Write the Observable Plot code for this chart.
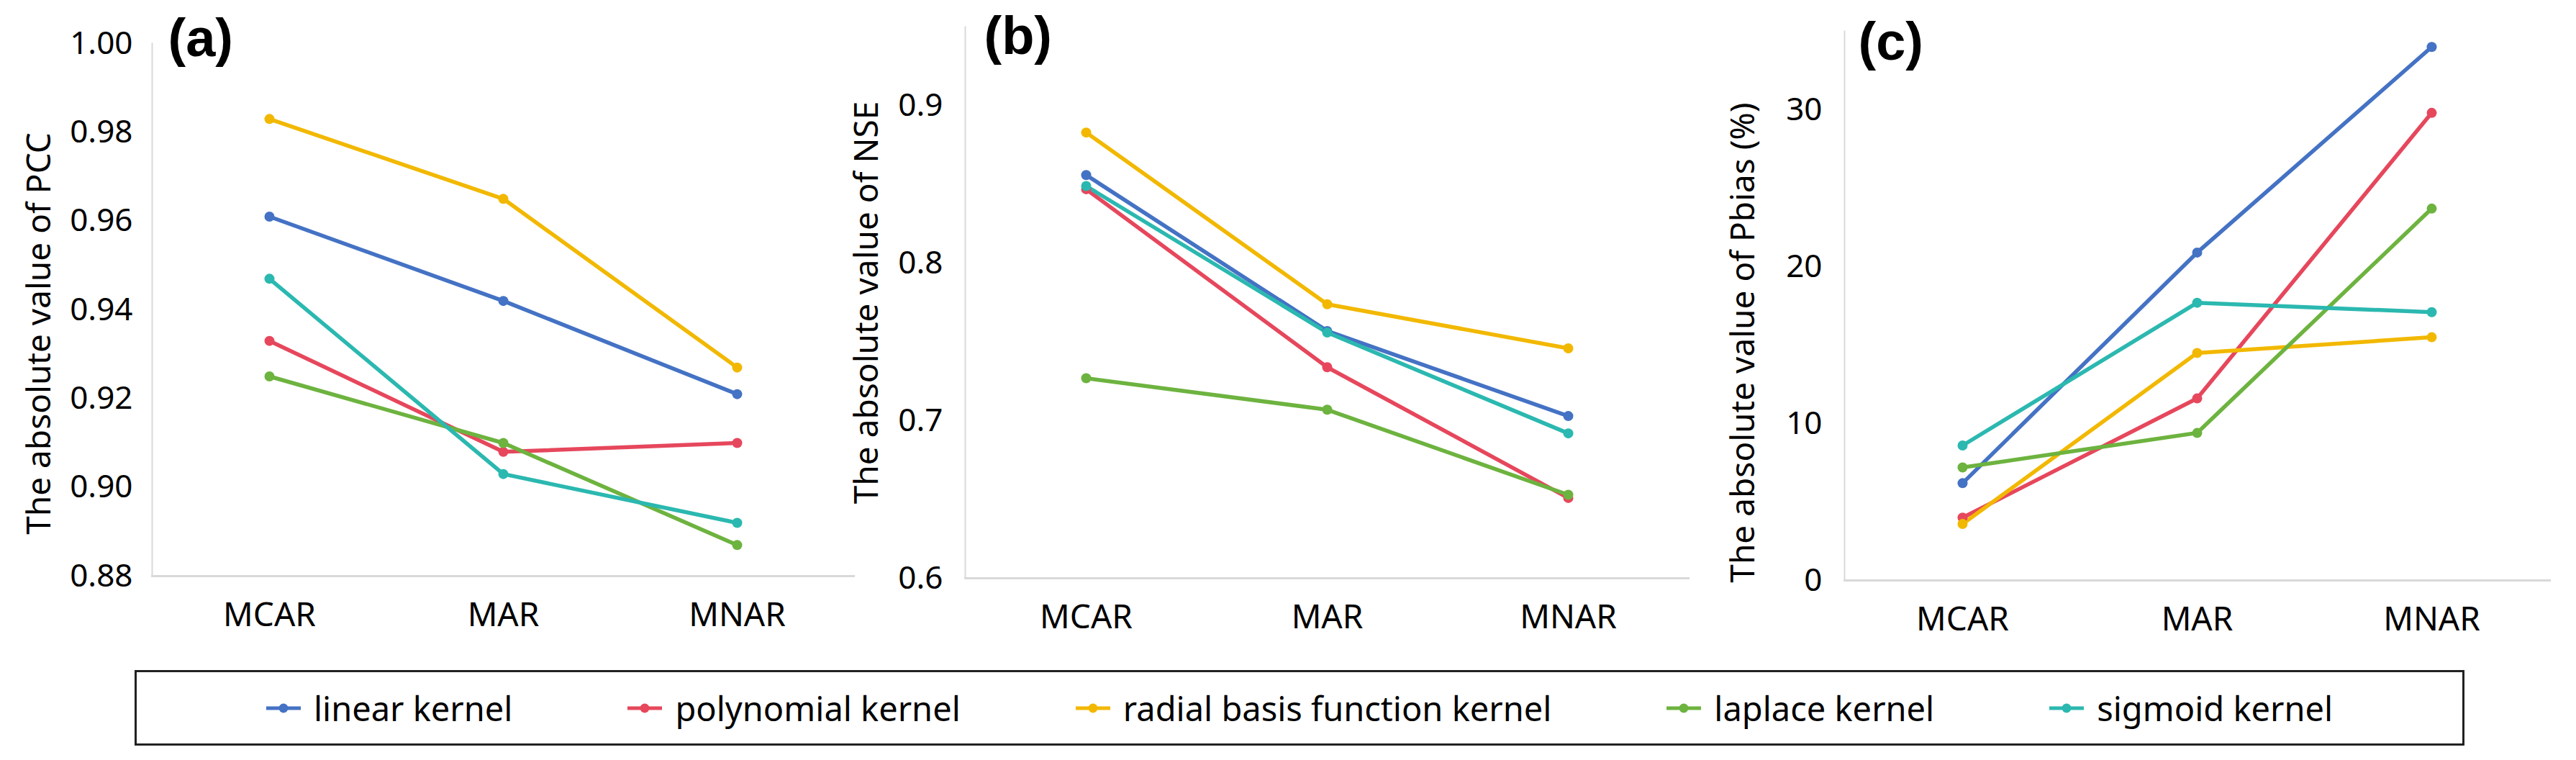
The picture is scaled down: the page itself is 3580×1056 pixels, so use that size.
<!DOCTYPE html>
<html>
<head>
<meta charset="utf-8">
<script src="https://cdn.jsdelivr.net/npm/d3@7"></script>
<script src="https://cdn.jsdelivr.net/npm/@observablehq/plot@0.6"></script>
<style>
html, body { margin: 0; padding: 0; background: #fff; }
body { width: 3580px; height: 1056px; position: relative; overflow: hidden; font-family: "Noto Sans", sans-serif; }
.panel { position: absolute; top: 0; }
#legend { position: absolute; left: 187px; top: 931px; width: 3238px; height: 105px; box-sizing: border-box;
  border: 3px solid #222; display: flex; align-items: center; justify-content: center; gap: 160px; }
.item { display: flex; align-items: center; gap: 18px; font-size: 47px; color: #000; white-space: nowrap; }
</style>
</head>
<body>
<div id="pa" class="panel" style="left:0px"></div>
<div id="pb" class="panel" style="left:1160px"></div>
<div id="pc" class="panel" style="left:2360px"></div>
<div id="legend"></div>
<script>
// ---- data ----
const mechanisms = ["MCAR", "MAR", "MNAR"];
const kernels = ["linear kernel", "polynomial kernel", "radial basis function kernel", "laplace kernel", "sigmoid kernel"];
const kernelColors = ["#4472C4", "#E6475C", "#F2B800", "#6DB33F", "#2BB8B0"];

// (a) absolute value of PCC
const pccLinear     = [0.961, 0.942, 0.921];
const pccPolynomial = [0.933, 0.908, 0.910];
const pccRbf        = [0.983, 0.965, 0.927];
const pccLaplace    = [0.925, 0.910, 0.887];
const pccSigmoid    = [0.947, 0.903, 0.892];
const pccTicks = [0.88, 0.90, 0.92, 0.94, 0.96, 0.98, 1.00];

// (b) absolute value of NSE
const nseLinear     = [0.856, 0.757, 0.703];
const nsePolynomial = [0.847, 0.734, 0.651];
const nseRbf        = [0.883, 0.774, 0.746];
const nseLaplace    = [0.727, 0.707, 0.653];
const nseSigmoid    = [0.849, 0.756, 0.692];
const nseTicks = [0.6, 0.7, 0.8, 0.9];

// (c) absolute value of Pbias (%)
const pbiasLinear     = [6.2, 20.9, 34.0];
const pbiasPolynomial = [4.0, 11.6, 29.8];
const pbiasRbf        = [3.6, 14.5, 15.5];
const pbiasLaplace    = [7.2, 9.4, 23.7];
const pbiasSigmoid    = [8.6, 17.7, 17.1];
const pbiasTicks = [0, 10, 20, 30];

function toRows(seriesList) {
  return kernels.flatMap((k, i) => seriesList[i].map((v, j) => ({kernel: k, mech: mechanisms[j], value: v})));
}

function panel(el, cfg) {
  const rows = toRows(cfg.series);
  const chart = Plot.plot({
    width: cfg.width, height: 900,
    marginLeft: cfg.ml, marginRight: cfg.mr, marginTop: cfg.mt, marginBottom: 900 - cfg.yBottom,
    style: {fontFamily: "Noto Sans", fontSize: "44px", color: "#000", background: "transparent", overflow: "visible"},
    x: {type: "point", domain: mechanisms, padding: 0.5},
    y: {domain: cfg.domain},
    color: {domain: kernels, range: kernelColors},
    marks: [
      Plot.frame({anchor: "left", stroke: "#d9d9d9", strokeWidth: 2}),
      Plot.frame({anchor: "bottom", stroke: "#d9d9d9", strokeWidth: 3}),
      Plot.axisY({ticks: cfg.ticks, tickFormat: cfg.fmt, tickSize: 0, tickPadding: cfg.tp, label: null, fontSize: 44, fill: "#000"}),
      Plot.axisX({tickSize: 0, tickPadding: 37, label: null, fontSize: 46, fill: "#000"}),
      Plot.lineY(rows, {x: "mech", y: "value", z: "kernel", stroke: "kernel", strokeWidth: 5.5}),
      Plot.dot(rows, {x: "mech", y: "value", fill: "kernel", r: 7}),
      Plot.text([cfg.tag], {frameAnchor: "top-left", dx: cfg.tagDx, dy: cfg.tagDy, lineAnchor: "top", textAnchor: "start",
        fontFamily: "Liberation Sans", fontWeight: "bold", fontSize: 74, fill: "#000"}),
      Plot.text([cfg.title], {frameAnchor: "left", rotate: -90, dx: cfg.titleDx, dy: cfg.titleDy,
        textAnchor: "middle", lineAnchor: "middle", fontSize: 46, fill: "#000"})
    ]
  });
  document.getElementById(el).appendChild(chart);
}

panel("pa", {
  series: [pccLinear, pccPolynomial, pccRbf, pccLaplace, pccSigmoid],
  width: 1160, ml: 211, mr: -26, mt: 60, yBottom: 800,
  domain: [0.88, 1.00], ticks: pccTicks, fmt: ".2f", tp: 27,
  tag: "(a)", tagDx: 22, tagDy: -35,
  title: "The absolute value of PCC", titleDx: -156, titleDy: 33
});
panel("pb", {
  series: [nseLinear, nsePolynomial, nseRbf, nseLaplace, nseSigmoid],
  width: 1200, ml: 181, mr: 14, mt: 37, yBottom: 803,
  domain: [0.6, 0.95], ticks: nseTicks, fmt: ".1f", tp: 31,
  tag: "(b)", tagDx: 26, tagDy: -15,
  title: "The absolute value of NSE", titleDx: -136, titleDy: 0
});
panel("pc", {
  series: [pbiasLinear, pbiasPolynomial, pbiasRbf, pbiasLaplace, pbiasSigmoid],
  width: 1220, ml: 203, mr: 37, mt: 43, yBottom: 806,
  domain: [0, 35], ticks: pbiasTicks, fmt: "d", tp: 31,
  tag: "(c)", tagDx: 19, tagDy: -13,
  title: "The absolute value of Pbias (%)", titleDx: -140, titleDy: 51
});

// ---- legend ----
const legend = document.getElementById("legend");
kernels.forEach((k, i) => {
  const item = document.createElement("div");
  item.className = "item";
  const ns = "http://www.w3.org/2000/svg";
  const svg = document.createElementNS(ns, "svg");
  svg.setAttribute("width", 48); svg.setAttribute("height", 16);
  const line = document.createElementNS(ns, "line");
  line.setAttribute("x1", 0); line.setAttribute("x2", 48); line.setAttribute("y1", 8); line.setAttribute("y2", 8);
  line.setAttribute("stroke", kernelColors[i]); line.setAttribute("stroke-width", 5);
  const dot = document.createElementNS(ns, "circle");
  dot.setAttribute("cx", 24); dot.setAttribute("cy", 8); dot.setAttribute("r", 6.5); dot.setAttribute("fill", kernelColors[i]);
  svg.appendChild(line); svg.appendChild(dot);
  const label = document.createElement("span");
  label.textContent = k;
  item.appendChild(svg); item.appendChild(label);
  legend.appendChild(item);
});
</script>
</body>
</html>
